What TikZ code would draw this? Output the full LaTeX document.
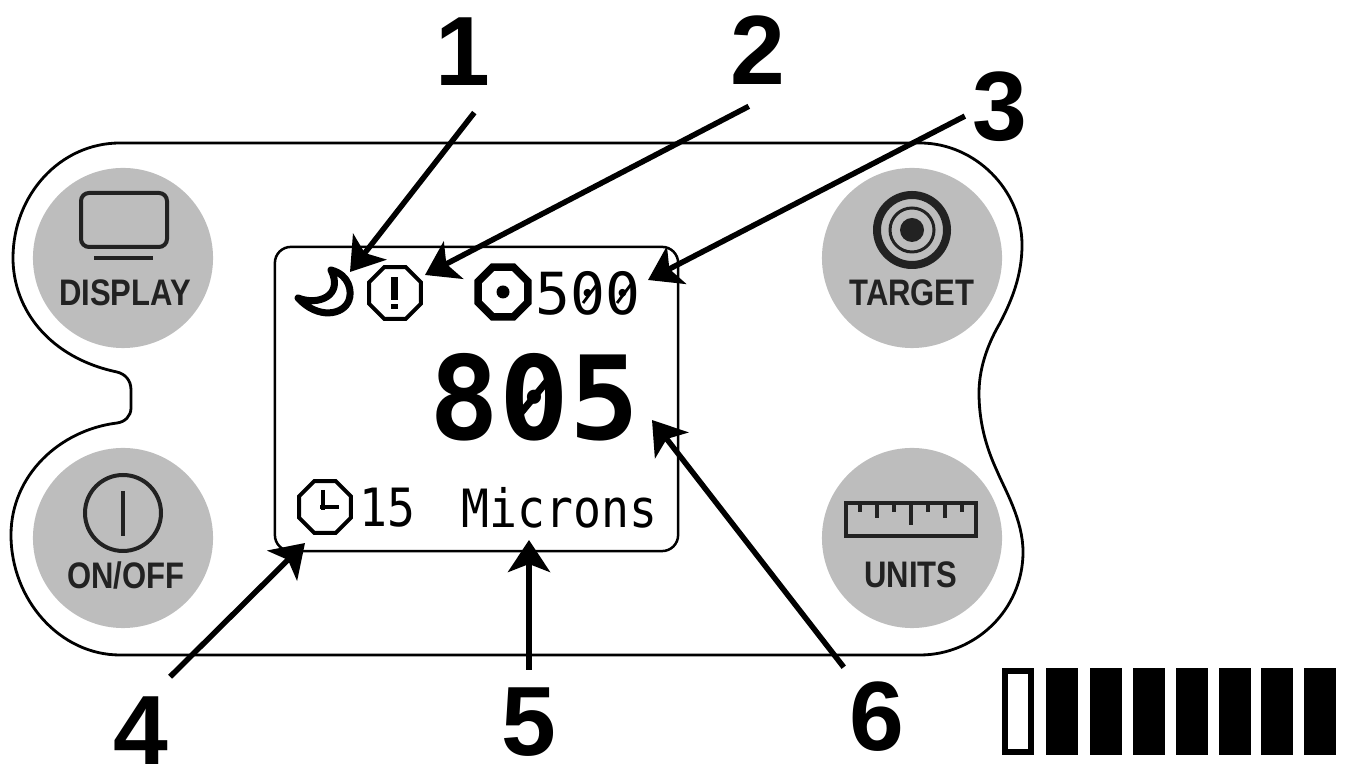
\documentclass[tikz,border=0pt]{standalone}
\usepackage{fontspec}
\usepackage{xcolor}
\setmainfont{Liberation Sans}
\newfontfamily\lcdfont{DejaVu Sans Mono}
\newfontfamily\lcdnarrow[FakeStretch=.88]{DejaVu Sans Mono}
\newfontfamily\keyfont[FakeStretch=.84]{Liberation Sans}
\definecolor{keybg}{HTML}{BDBDBD}
\definecolor{keyink}{HTML}{222222}
\usetikzlibrary{arrows.meta,shapes.geometric}
\tikzset{
  keydisc/.style={circle,fill=keybg,minimum size=1.8cm,inner sep=0pt},
  keytext/.style={font=\keyfont\fontsize{10.5}{12}\bfseries\selectfont,text=keyink,inner sep=0pt},
  keyicon/.style={draw=keyink,line width=.04cm},
  octa/.style={regular polygon,regular polygon sides=8,draw=black,inner sep=0pt},
  callout/.style={draw=black,line width=.055cm,-{Stealth[length=.32cm,width=.42cm,inset=.08cm]}},
  calloutnum/.style={font=\fontsize{28}{30}\bfseries\selectfont,inner xsep=1pt,inner ysep=0pt},
  batbar/.style={fill=black,minimum width=.32cm,minimum height=.87cm,inner sep=0pt}
}
\begin{document}
\begin{tikzpicture}[x=.01cm,y=-.01cm]
\useasboundingbox (0,0) rectangle (1352,768);
\draw[line width=.028cm] (120,143) .. controls (60,143) and (13,195) .. (13,258)
  .. controls (13,310) and (50,358) .. (117,372)
  .. controls (125,374) and (131,380) .. (131,390) -- (131,408)
  .. controls (131,416) and (125,422) .. (117,423)
  .. controls (60,430) and (11,475) .. (11,535)
  .. controls (11,600) and (60,655) .. (120,655) -- (920,655)
  .. controls (975,655) and (1023,610) .. (1023,552)
  .. controls (1023,520) and (1005,490) .. (997,471)
  .. controls (985,445) and (979,420) .. (979,393)
  .. controls (979,365) and (990,340) .. (1000,323)
  .. controls (1012,300) and (1022,275) .. (1022,245)
  .. controls (1022,190) and (975,143) .. (920,143) -- cycle;

\node[keydisc] (displaykey) at (123,258) {};
\node[keydisc] (onoffkey) at (123,538) {};
\node[keydisc] (targetkey) at (912,258) {};
\node[keydisc] (unitskey) at (912,538) {};
\node[keytext] (displaytext) at (125,293) {DISPLAY};
\node[keytext] (onofftext) at (126,575) {ON/OFF};
\node[keytext] (targettext) at (912,293) {TARGET};
\node[keytext] (unitstext) at (911,575) {UNITS};

\draw[keyicon,rounded corners=.08cm] (81,193) rectangle (167,247);
\draw[keyicon] (94,258) -- (153,258);
\draw[keyicon] (123,513) circle (38);
\draw[keyicon] (123,491) -- (123,536);
\draw[draw=keyink,line width=.08cm] (912,230) circle (35);
\draw[draw=keyink,line width=.03cm] (912,230) circle (22);
\fill[keyink] (912,230) circle (12);
\draw[keyicon] (846,503) rectangle (976,536);
\foreach \tx/\tl in {860/9,877/15,894/9,911/22,928/9,945/15,962/9}
  \draw[draw=keyink,line width=.04cm] (\tx,503) -- ++(0,\tl);

\node[draw,line width=.025cm,rounded corners=.16cm,minimum width=4.03cm,minimum height=3.04cm,inner sep=0pt] (screen) at (476.5,399) {};

\draw[line width=.07cm,fill=white,line join=round] (331,270) .. controls (350,275) and (352,292) .. (349,300)
  .. controls (344,315) and (318,320) .. (298,298)
  .. controls (318,306) and (344,296) .. (331,270) -- cycle;
\node[octa,line width=.04cm,minimum size=.56cm] (warnicon) at (395,293) {};
\fill (391,277) rectangle (398,300);
\fill (391,304) rectangle (398,309);
\node[octa,line width=.075cm,minimum size=.54cm] (goalicon) at (503,292) {};
\fill (503,292) circle (6.5);
\node[inner sep=0pt,anchor=east,font=\lcdfont\fontsize{16.5}{18}\selectfont] (goalvalue) at (641,293) {500};
\node[inner sep=0pt,anchor=east,font=\lcdfont\fontsize{33}{36}\bfseries\selectfont] (reading) at (640,397) {805};
\draw[line width=.028cm] (583,303) -- (598,283) (617,303) -- (632,283);
\draw[line width=.07cm] (520,414) -- (548,380);
\node[octa,line width=.04cm,minimum size=.56cm] (clockicon) at (325,507) {};
\draw[line width=.035cm] (323,490) -- (323,510) (320,507) -- (339,507);
\node[inner sep=0pt,anchor=west,font=\lcdnarrow\fontsize{15}{18}\selectfont] (interval) at (359,508) {15};
\node[inner sep=0pt,anchor=west,font=\lcdnarrow\fontsize{15}{18}\selectfont] (unitname) at (461,508) {Microns};

\node[calloutnum] (num1) at (463,52) {1};
\node[calloutnum] (num2) at (758,50) {2};
\node[calloutnum] (num3) at (1000,107) {3};
\node[calloutnum] (num4) at (141,731) {4};
\node[calloutnum] (num5) at (529,722) {5};
\node[calloutnum] (num6) at (877,717) {6};
\coordinate (tip1) at (350,272);
\coordinate (tip2) at (425,275);
\coordinate (tip3) at (648,280);
\coordinate (tip4) at (305,543);
\coordinate (tip5) at (529,540);
\coordinate (tip6) at (652,420);
\draw[callout,shorten <=.33cm] (num1.south east) -- (tip1);
\draw[callout,shorten <=.46cm] (num2.south east) -- (tip2);
\draw[callout,shorten <=.04cm] (num3.193) -- (tip3);
\draw[callout,shorten <=.28cm] (num4.75) -- (tip4);
\draw[callout,shorten <=.17cm] (num5.north) -- (tip5);
\draw[callout,shorten <=.18cm] (num6.122) -- (tip6);

\node[batbar,draw=black,fill=white,line width=.06cm,minimum width=.26cm,minimum height=.81cm] (bar1) at (1018,711.5) {};
\foreach \n/\bx in {2/1061.5,3/1105.5,4/1149,5/1192,6/1234.5,7/1277,8/1319.5}
  \node[batbar] (bar\n) at (\bx,711.5) {};
\end{tikzpicture}
\end{document}
